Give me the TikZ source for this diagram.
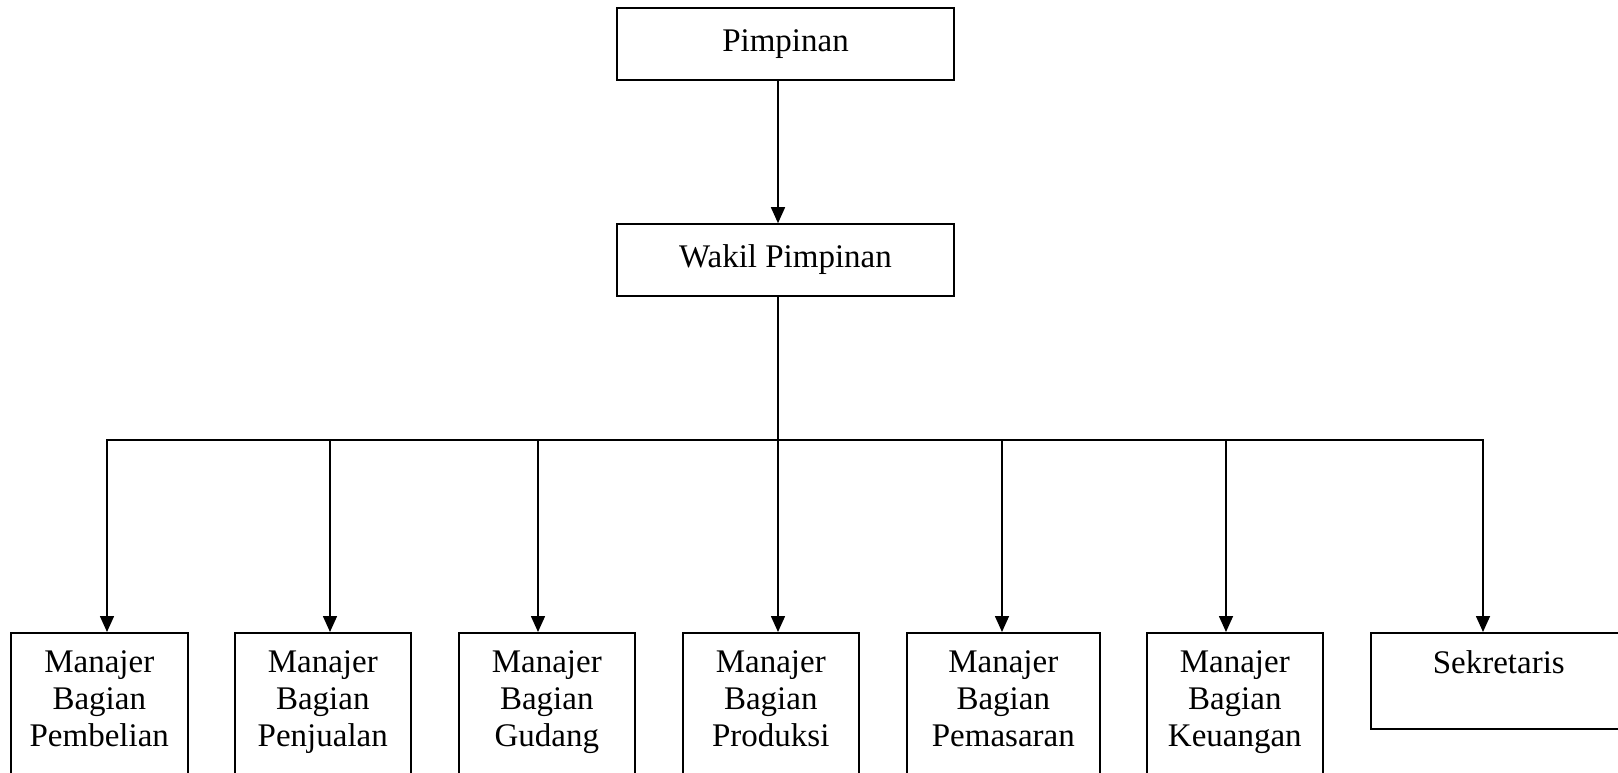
\documentclass[tikz,border=0pt]{standalone}
\usepackage{fontspec}
\setmainfont{Liberation Serif}
\usetikzlibrary{arrows.meta, positioning}

\begin{document}
\begin{tikzpicture}[
  x=1pt, y=1pt,
  head/.style={draw, line width=1.6pt, minimum width=337pt, minimum height=72pt, inner sep=0pt, font=\fontsize{33}{37}\selectfont},
  unit/.style={draw, line width=1.6pt, anchor=north west, align=center, inner xsep=0pt, inner ysep=18pt, text depth=150pt, minimum width=176pt, font=\fontsize{33}{37}\selectfont},
  arrow/.style={-{Triangle[length=16pt, width=14pt]}, line width=1.6pt},
  link/.style={line width=1.6pt, line cap=rect}
]
  \useasboundingbox (0,0) rectangle (1618,-773);

  \node[head] (pimpinan) at (785.5,-44) {Pimpinan};
  \node[head] (wakil) at (785.5,-260) {Wakil Pimpinan};

  \node[unit, minimum width=177pt] (beli) at (10,-632) {Manajer\\Bagian\\Pembelian};
  \node[unit] (jual) at (234,-632) {Manajer\\Bagian\\Penjualan};
  \node[unit] (gudang) at (458,-632) {Manajer\\Bagian\\Gudang};
  \node[unit] (produksi) at (682,-632) {Manajer\\Bagian\\Produksi};
  \node[unit, minimum width=193pt] (pasar) at (906,-632) {Manajer\\Bagian\\Pemasaran};
  \node[unit] (uang) at (1146,-632) {Manajer\\Bagian\\Keuangan};
  \node[unit, minimum width=256pt, text depth=37.5pt] (sekretaris) at (1370,-632) {Sekretaris};

  % branch points on the bar
  \coordinate (trunk) at (778,-440);
  \coordinate (jBeli) at (107,-440);
  \coordinate (jJual) at (330,-440);
  \coordinate (jGudang) at (538,-440);
  \coordinate (jPasar) at (1002,-440);
  \coordinate (jUang) at (1226,-440);
  \coordinate (jSek) at (1483,-440);

  \draw[arrow] (pimpinan.south -| trunk) -- (wakil.north -| trunk);
  \draw[link] (wakil.south -| trunk) -- (trunk);
  \draw[link] (jBeli) -- (jSek);

  \draw[arrow] (jBeli) -- (jBeli |- beli.north);
  \draw[arrow] (jJual) -- (jJual |- jual.north);
  \draw[arrow] (jGudang) -- (jGudang |- gudang.north);
  \draw[arrow] (trunk) -- (trunk |- produksi.north);
  \draw[arrow] (jPasar) -- (jPasar |- pasar.north);
  \draw[arrow] (jUang) -- (jUang |- uang.north);
  \draw[arrow] (jSek) -- (jSek |- sekretaris.north);
\end{tikzpicture}
\end{document}
